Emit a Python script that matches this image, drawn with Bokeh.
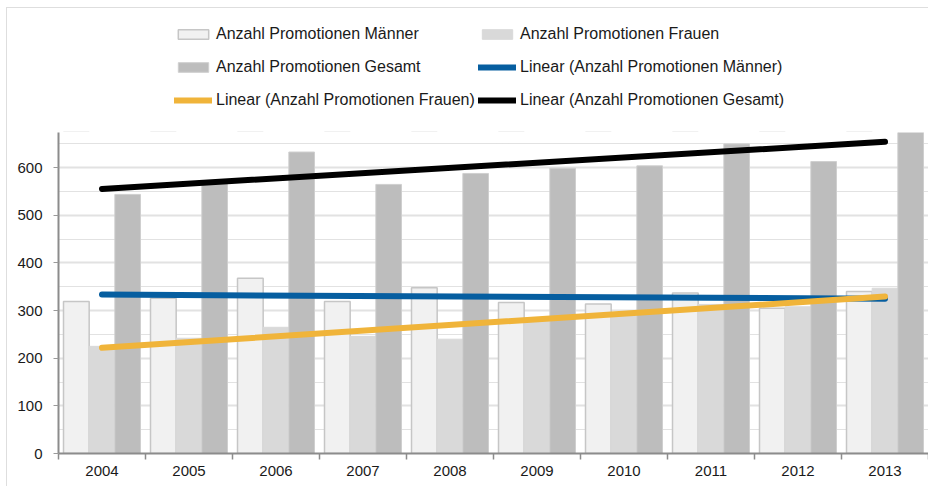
import numpy as np
from bokeh.plotting import figure
from bokeh.layouts import column
from bokeh.models import (ColumnDataSource, Range1d, FixedTicker, SingleIntervalTicker,
                          Legend, LegendItem)
from bokeh.transform import dodge
from bokeh.embed import file_html
from bokeh.resources import INLINE

# ---- data ----
years = ["2004", "2005", "2006", "2007", "2008", "2009", "2010", "2011", "2012", "2013"]
maenner = [319, 326, 368, 319, 348, 317, 314, 337, 305, 340]
frauen = [225, 242, 265, 246, 240, 282, 289, 313, 308, 347]
gesamt = [544, 568, 633, 565, 588, 599, 604, 650, 613, 687]

label_m = "Anzahl Promotionen Männer"
label_f = "Anzahl Promotionen Frauen"
label_g = "Anzahl Promotionen Gesamt"

FONT = "Liberation Sans"
TEXT = "#1a1a1a"

# styles
BAR_M = dict(fill_color="#f1f1f1", line_color="#c6c6c6", line_width=1.5)
BAR_F = dict(fill_color="#d9d9d9", line_color="#d9d9d9", line_width=1)
BAR_G = dict(fill_color="#bdbdbd", line_color="#cfcfcf", line_width=1)
LINE_M = dict(line_color="#065ea0", line_width=6, line_cap="round")
LINE_F = dict(line_color="#f0b43a", line_width=6, line_cap="round")
LINE_G = dict(line_color="#000000", line_width=6, line_cap="round")

n = len(years)
centers = np.arange(n) + 0.5
src = ColumnDataSource(dict(x=centers, m=maenner, f=frauen, g=gesamt))


# linear trend lines (least squares, like the spreadsheet's "Linear" trendline)
def trend(vals):
    k = np.polyfit(np.arange(n), vals, 1)
    return list(np.polyval(k, [0, n - 1]))


lx = [centers[0], centers[-1]]
bw = 0.295
x_range = Range1d(0, n)


def draw_series(fig):
    r = {}
    r["m"] = fig.vbar(x=dodge("x", -bw, range=x_range), top="m", width=bw, source=src, **BAR_M)
    r["f"] = fig.vbar(x=dodge("x", 0, range=x_range), top="f", width=bw, source=src, **BAR_F)
    r["g"] = fig.vbar(x=dodge("x", bw, range=x_range), top="g", width=bw, source=src, **BAR_G)
    r["lm"] = fig.line(lx, trend(maenner), **LINE_M)
    r["lf"] = fig.line(lx, trend(frauen), **LINE_F)
    r["lg"] = fig.line(lx, trend(gesamt), **LINE_G)
    return r


# ---------------- main chart ----------------
p = figure(width=921, height=354, x_range=x_range, y_range=Range1d(0, 674),
           output_backend="svg", toolbar_location=None,
           min_border_left=51, min_border_right=0, min_border_top=0, min_border_bottom=33)
p.outline_line_color = None
draw_series(p)

# axes
p.xaxis.ticker = FixedTicker(ticks=list(centers), minor_ticks=list(range(n + 1)))
p.xaxis.major_label_overrides = {float(c): y for c, y in zip(centers, years)}
p.xaxis.major_tick_line_color = None
p.xaxis.minor_tick_line_color = "#8c8c8c"
p.xaxis.minor_tick_line_width = 1.5
p.xaxis.minor_tick_out = 6
p.xaxis.minor_tick_in = 0
p.xaxis.major_label_standoff = 6
p.xaxis.axis_line_color = "#8c8c8c"
p.xaxis.axis_line_width = 2
p.xgrid.visible = False

p.yaxis.ticker = SingleIntervalTicker(interval=100, num_minor_ticks=2)
p.yaxis.minor_tick_line_color = None
p.yaxis.major_tick_line_color = "#9a9a9a"
p.yaxis.major_tick_out = 5
p.yaxis.major_tick_in = 0
p.yaxis.major_label_standoff = 11
p.yaxis.axis_line_color = "#8c8c8c"
p.yaxis.axis_line_width = 2
p.ygrid.grid_line_color = "#e2e2e2"
p.ygrid.grid_line_width = 2
p.ygrid.minor_grid_line_color = "#c4c4c4"
p.ygrid.minor_grid_line_dash = "1 1"
p.ygrid.minor_grid_line_width = 1

for ax in (p.xaxis, p.yaxis):
    ax.major_label_text_font = FONT
    ax.major_label_text_font_size = "15px"
    ax.major_label_text_color = TEXT

# ---------------- legend strip above the chart ----------------
# same series, but the strip shows a value window above all data, so only the legend is seen
pl = figure(width=921, height=124, x_range=x_range, y_range=Range1d(1000, 1100),
            output_backend="svg", toolbar_location=None,
            x_axis_type=None, y_axis_type=None,
            min_border_left=0, min_border_right=0, min_border_top=0, min_border_bottom=0)
pl.outline_line_color = None
pl.xgrid.visible = False
pl.ygrid.visible = False
k = draw_series(pl)


def make_legend(items, loc):
    lg_ = Legend(items=items, location=loc, orientation="vertical")
    lg_.glyph_width = 38
    lg_.glyph_height = 12
    lg_.label_height = 20
    lg_.label_standoff = 4
    lg_.spacing = 13
    lg_.padding = 0
    lg_.margin = 0
    lg_.border_line_color = None
    lg_.background_fill_alpha = 0
    lg_.label_text_font = FONT
    lg_.label_text_font_size = "16px"
    lg_.label_text_color = TEXT
    return lg_


legA = make_legend([LegendItem(label=label_m, renderers=[k["m"]]),
                    LegendItem(label=label_g, renderers=[k["g"]]),
                    LegendItem(label="Linear (" + label_f + ")", renderers=[k["lf"]])], (116, 22))
legB = make_legend([LegendItem(label=label_f, renderers=[k["f"]]),
                    LegendItem(label="Linear (" + label_m + ")", renderers=[k["lm"]]),
                    LegendItem(label="Linear (" + label_g + ")", renderers=[k["lg"]])], (420, 22))
pl.add_layout(legA, "center")
pl.add_layout(legB, "center")

layout = column(pl, p, spacing=0, margin=(7, 0, 0, 6),
                styles={"border-left": "1px solid #dedede", "border-top": "1px solid #dedede"})
open("out.html", "w").write(file_html(layout, INLINE))
